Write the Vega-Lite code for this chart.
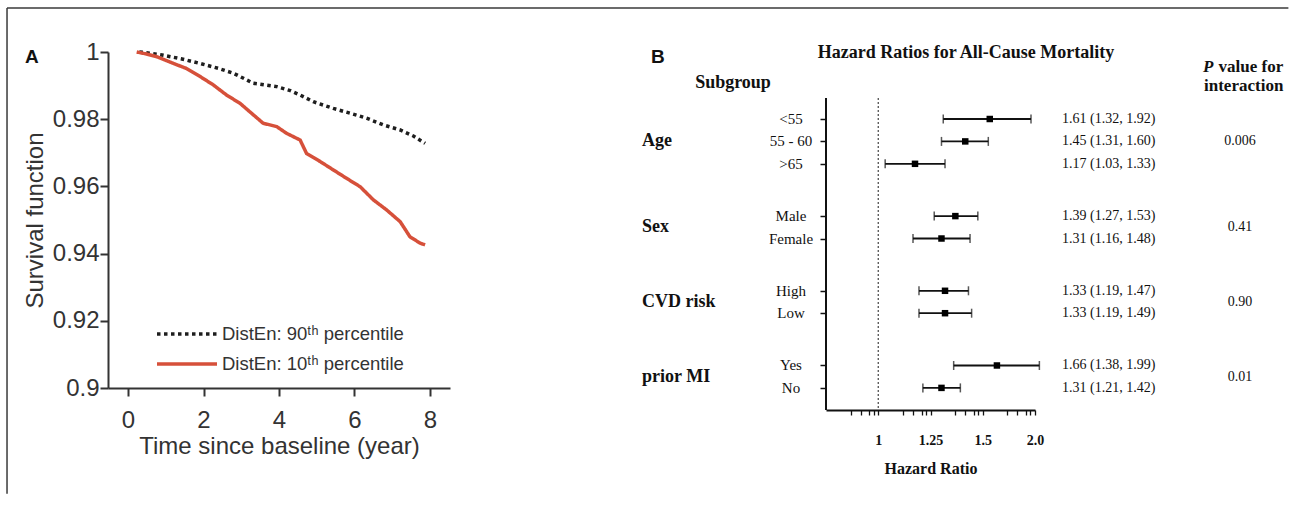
{
  "$schema": "https://vega.github.io/schema/vega-lite/v6.json",
  "padding": {"left": 6, "top": 7, "right": 0, "bottom": 0},
  "autosize": {"type": "pad"},
  "background": "white",
  "bounds": "flush",
  "spacing": 376,
  "config": {"view": {"stroke": null}, "axis": {"grid": false}},
  "datasets": {
    "km": [
      {"series": "DistEn: 90ᵗʰ percentile", "t": 0.3, "S": 1.0},
      {"series": "DistEn: 90ᵗʰ percentile", "t": 0.41, "S": 0.9999},
      {"series": "DistEn: 90ᵗʰ percentile", "t": 0.9, "S": 0.9991},
      {"series": "DistEn: 90ᵗʰ percentile", "t": 1.4, "S": 0.998},
      {"series": "DistEn: 90ᵗʰ percentile", "t": 1.91, "S": 0.9966},
      {"series": "DistEn: 90ᵗʰ percentile", "t": 2.4, "S": 0.9951},
      {"series": "DistEn: 90ᵗʰ percentile", "t": 2.79, "S": 0.9937},
      {"series": "DistEn: 90ᵗʰ percentile", "t": 3.32, "S": 0.9907},
      {"series": "DistEn: 90ᵗʰ percentile", "t": 3.94, "S": 0.9897},
      {"series": "DistEn: 90ᵗʰ percentile", "t": 4.3, "S": 0.9885},
      {"series": "DistEn: 90ᵗʰ percentile", "t": 4.56, "S": 0.9872},
      {"series": "DistEn: 90ᵗʰ percentile", "t": 4.91, "S": 0.9852},
      {"series": "DistEn: 90ᵗʰ percentile", "t": 5.44, "S": 0.9832},
      {"series": "DistEn: 90ᵗʰ percentile", "t": 5.88, "S": 0.9818},
      {"series": "DistEn: 90ᵗʰ percentile", "t": 6.32, "S": 0.9803},
      {"series": "DistEn: 90ᵗʰ percentile", "t": 6.76, "S": 0.9783},
      {"series": "DistEn: 90ᵗʰ percentile", "t": 7.21, "S": 0.9768},
      {"series": "DistEn: 90ᵗʰ percentile", "t": 7.56, "S": 0.975},
      {"series": "DistEn: 90ᵗʰ percentile", "t": 7.87, "S": 0.9728},
      {"series": "DistEn: 10ᵗʰ percentile", "t": 0.23, "S": 1.0},
      {"series": "DistEn: 10ᵗʰ percentile", "t": 0.49, "S": 0.9994},
      {"series": "DistEn: 10ᵗʰ percentile", "t": 0.76, "S": 0.9986},
      {"series": "DistEn: 10ᵗʰ percentile", "t": 1.2, "S": 0.9966},
      {"series": "DistEn: 10ᵗʰ percentile", "t": 1.55, "S": 0.9951},
      {"series": "DistEn: 10ᵗʰ percentile", "t": 1.91, "S": 0.9927},
      {"series": "DistEn: 10ᵗʰ percentile", "t": 2.26, "S": 0.9902},
      {"series": "DistEn: 10ᵗʰ percentile", "t": 2.61, "S": 0.9872},
      {"series": "DistEn: 10ᵗʰ percentile", "t": 2.97, "S": 0.9847},
      {"series": "DistEn: 10ᵗʰ percentile", "t": 3.32, "S": 0.9813},
      {"series": "DistEn: 10ᵗʰ percentile", "t": 3.58, "S": 0.9788},
      {"series": "DistEn: 10ᵗʰ percentile", "t": 3.94, "S": 0.9778},
      {"series": "DistEn: 10ᵗʰ percentile", "t": 4.2, "S": 0.9758},
      {"series": "DistEn: 10ᵗʰ percentile", "t": 4.56, "S": 0.9738},
      {"series": "DistEn: 10ᵗʰ percentile", "t": 4.73, "S": 0.9698},
      {"series": "DistEn: 10ᵗʰ percentile", "t": 5.09, "S": 0.9674},
      {"series": "DistEn: 10ᵗʰ percentile", "t": 5.44, "S": 0.9649},
      {"series": "DistEn: 10ᵗʰ percentile", "t": 5.79, "S": 0.9624},
      {"series": "DistEn: 10ᵗʰ percentile", "t": 6.15, "S": 0.9599},
      {"series": "DistEn: 10ᵗʰ percentile", "t": 6.5, "S": 0.956},
      {"series": "DistEn: 10ᵗʰ percentile", "t": 6.85, "S": 0.953},
      {"series": "DistEn: 10ᵗʰ percentile", "t": 7.21, "S": 0.9495},
      {"series": "DistEn: 10ᵗʰ percentile", "t": 7.47, "S": 0.945},
      {"series": "DistEn: 10ᵗʰ percentile", "t": 7.74, "S": 0.9431},
      {"series": "DistEn: 10ᵗʰ percentile", "t": 7.87, "S": 0.9426}
    ],
    "hr": [
      {"group": "Age", "sub": "<55", "row": 0, "hr": 1.61, "lo": 1.32, "hi": 1.92, "label": "1.61 (1.32, 1.92)", "p": "0.006"},
      {"group": "Age", "sub": "55 - 60", "row": 3, "hr": 1.45, "lo": 1.31, "hi": 1.6, "label": "1.45 (1.31, 1.60)", "p": "0.006"},
      {"group": "Age", "sub": ">65", "row": 6, "hr": 1.17, "lo": 1.03, "hi": 1.33, "label": "1.17 (1.03, 1.33)", "p": "0.006"},
      {"group": "Sex", "sub": "Male", "row": 13, "hr": 1.39, "lo": 1.27, "hi": 1.53, "label": "1.39 (1.27, 1.53)", "p": "0.41"},
      {"group": "Sex", "sub": "Female", "row": 16, "hr": 1.31, "lo": 1.16, "hi": 1.48, "label": "1.31 (1.16, 1.48)", "p": "0.41"},
      {"group": "CVD risk", "sub": "High", "row": 23, "hr": 1.33, "lo": 1.19, "hi": 1.47, "label": "1.33 (1.19, 1.47)", "p": "0.90"},
      {"group": "CVD risk", "sub": "Low", "row": 26, "hr": 1.33, "lo": 1.19, "hi": 1.49, "label": "1.33 (1.19, 1.49)", "p": "0.90"},
      {"group": "prior MI", "sub": "Yes", "row": 33, "hr": 1.66, "lo": 1.38, "hi": 1.99, "label": "1.66 (1.38, 1.99)", "p": "0.01"},
      {"group": "prior MI", "sub": "No", "row": 36, "hr": 1.31, "lo": 1.21, "hi": 1.42, "label": "1.31 (1.21, 1.42)", "p": "0.01"}
    ]
  },
  "hconcat": [
    {
      "width": 342,
      "height": 336,
      "layer": [
        {
          "data": {"values": [{}]},
          "mark": {"type": "rule", "strokeWidth": 1.5, "color": "#3a3a3a"},
          "encoding": {"x": {"datum": -3.205}, "y": {"datum": 1.0131}, "y2": {"datum": 0.8685}}
        },
        {
          "data": {"values": [{}]},
          "mark": {"type": "rule", "strokeWidth": 1.5, "color": "#3a3a3a"},
          "encoding": {"x": {"datum": -3.205}, "x2": {"datum": 30.74}, "y": {"datum": 1.0131}}
        },
        {
          "data": {"name": "km"},
          "mark": {"type": "line", "strokeWidth": 3.5},
          "encoding": {
            "x": {
              "field": "t", "type": "quantitative",
              "scale": {"domain": [-0.53, 8.53], "nice": false, "zero": false},
              "axis": {
                "values": [0, 2, 4, 6, 8], "title": "Time since baseline (year)",
                "labelFont": "Liberation Sans", "labelFontSize": 24, "labelColor": "#333",
                "tickSize": 8, "tickWidth": 2, "tickColor": "#333", "domainWidth": 2, "domainColor": "#333",
                "labelPadding": 12, "labelFlush": false,
                "titleFont": "Liberation Sans", "titleFontSize": 24, "titleFontWeight": "normal", "titleColor": "#333", "titlePadding": 2
              }
            },
            "y": {
              "field": "S", "type": "quantitative",
              "scale": {"domain": [0.9, 1], "nice": false, "zero": false},
              "axis": {
                "values": [0.9, 0.92, 0.94, 0.96, 0.98, 1], "format": ".2~f", "title": "Survival function",
                "labelFont": "Liberation Sans", "labelFontSize": 24, "labelColor": "#333",
                "tickSize": 8, "tickWidth": 2, "tickColor": "#333", "domainWidth": 2, "domainColor": "#333",
                "labelPadding": 1, "labelFlush": false,
                "titleFont": "Liberation Sans", "titleFontSize": 24, "titleFontWeight": "normal", "titleColor": "#333", "titlePadding": 5
              }
            },
            "color": {
              "field": "series", "type": "nominal",
              "scale": {"domain": ["DistEn: 90ᵗʰ percentile", "DistEn: 10ᵗʰ percentile"], "range": ["#1e1e1e", "#d6503a"]},
              "legend": {"orient": "none", "legendX": 39.5, "legendY": 272.5, "title": null, "symbolType": "M0,0H8", "symbolSize": 225, "symbolStrokeWidth": 3.5, "labelFont": "Liberation Sans", "labelFontSize": 18.5, "labelColor": "#333", "labelOffset": 55.5, "rowPadding": 11, "padding": 0, "labelLimit": 400}
            },
            "strokeDash": {
              "field": "series", "type": "nominal",
              "scale": {"domain": ["DistEn: 90ᵗʰ percentile", "DistEn: 10ᵗʰ percentile"], "range": [[3.5, 3.5], [1, 0]]},
              "legend": {"orient": "none", "legendX": 39.5, "legendY": 272.5, "title": null, "symbolType": "M0,0H8", "symbolSize": 225, "symbolStrokeWidth": 3.5, "labelFont": "Liberation Sans", "labelFontSize": 18.5, "labelColor": "#333", "labelOffset": 55.5, "rowPadding": 11, "padding": 0, "labelLimit": 400}
            }
          }
        },
        {
          "data": {"values": [{}]},
          "mark": {"type": "text", "text": "A", "font": "Liberation Sans", "fontWeight": "bold", "fontSize": 19, "align": "left", "baseline": "middle", "color": "#111"},
          "encoding": {"x": {"datum": -2.73}, "y": {"datum": 0.99851}}
        }
      ]
    },
    {
      "width": 209,
      "height": 358,
      "data": {"name": "hr"},
      "layer": [
        {
          "mark": {"type": "rule", "strokeWidth": 1.8, "color": "#111"},
          "encoding": {
            "x": {
              "field": "lo", "type": "quantitative",
              "scale": {"type": "log", "domain": [0.8, 1.953125], "nice": false},
              "axis": {
                "values": [0.8885, 0.927, 0.9627, 0.9802, 1, 1.1106, 1.1587, 1.2034, 1.2252, 1.25, 1.3883, 1.4484, 1.5043, 1.5315, 1.5625, 1.7353, 1.8105, 1.8803, 1.9144, 1.953125],
                "labelExpr": "datum.value == 1 ? '1' : datum.value == 1.25 ? '1.25' : datum.value == 1.5625 ? '1.5' : datum.value == 1.953125 ? '2.0' : ''",
                "title": "Hazard Ratio",
                "labelFont": "Liberation Serif", "labelFontSize": 14, "labelFontWeight": "bold", "labelColor": "#111",
                "labelPadding": 18, "labelFlush": false, "labelOverlap": false,
                "tickSize": 5, "tickWidth": 1.3, "tickColor": "#111", "domainWidth": 2, "domainColor": "#111",
                "titleFont": "Liberation Serif", "titleFontSize": 16, "titleFontWeight": "bold", "titleColor": "#111", "titlePadding": 13
              }
            },
            "x2": {"field": "hi"},
            "y": {
              "field": "row", "type": "quantitative",
              "scale": {"domain": [-8.97, 38.96], "reverse": true, "nice": false, "zero": false},
              "axis": {"values": [0, 3, 6, 13, 16, 23, 26, 33, 36], "labels": false, "domain": false, "tickSize": 6, "tickWidth": 1.5, "tickColor": "#111", "title": null}
            }
          }
        },
        {
          "data": {"values": [{}]},
          "mark": {"type": "rule", "strokeWidth": 2, "color": "#111"},
          "encoding": {"x": {"datum": 0.8}, "y": {"datum": -2.81}, "y2": {"datum": 38.96}}
        },
        {
          "data": {"values": [{}]},
          "mark": {"type": "rule", "strokeWidth": 1.2, "color": "#444", "strokeDash": [2, 2]},
          "encoding": {"x": {"datum": 1}, "y": {"datum": -2.81}, "y2": {"datum": 38.96}}
        },
        {
          "mark": {"type": "tick", "orient": "vertical", "size": 9, "thickness": 1.5, "color": "#111"},
          "encoding": {"x": {"field": "lo", "type": "quantitative"}, "y": {"field": "row", "type": "quantitative"}}
        },
        {
          "mark": {"type": "tick", "orient": "vertical", "size": 9, "thickness": 1.5, "color": "#111"},
          "encoding": {"x": {"field": "hi", "type": "quantitative"}, "y": {"field": "row", "type": "quantitative"}}
        },
        {
          "mark": {"type": "square", "size": 42, "filled": true, "opacity": 1, "color": "#000"},
          "encoding": {"x": {"field": "hr", "type": "quantitative"}, "y": {"field": "row", "type": "quantitative"}}
        },
        {
          "mark": {"type": "text", "font": "Liberation Serif", "fontSize": 15, "align": "center", "baseline": "middle", "color": "#111"},
          "encoding": {"x": {"datum": 0.6889}, "y": {"field": "row", "type": "quantitative"}, "text": {"field": "sub"}}
        },
        {
          "mark": {"type": "text", "font": "Liberation Serif", "fontSize": 14, "align": "left", "baseline": "middle", "color": "#111"},
          "encoding": {"x": {"datum": 2.1918}, "y": {"field": "row", "type": "quantitative"}, "text": {"field": "label"}}
        },
        {
          "transform": [{"aggregate": [{"op": "mean", "field": "row", "as": "row"}], "groupby": ["group", "p"]}],
          "mark": {"type": "text", "font": "Liberation Serif", "fontSize": 18, "fontWeight": "bold", "align": "left", "baseline": "middle", "color": "#111"},
          "encoding": {"x": {"datum": 0.3646}, "y": {"field": "row", "type": "quantitative"}, "text": {"field": "group"}}
        },
        {
          "transform": [{"aggregate": [{"op": "mean", "field": "row", "as": "row"}], "groupby": ["group", "p"]}],
          "mark": {"type": "text", "font": "Liberation Serif", "fontSize": 14, "align": "center", "baseline": "middle", "color": "#111"},
          "encoding": {"x": {"datum": 4.688}, "y": {"field": "row", "type": "quantitative"}, "text": {"field": "p"}}
        },
        {
          "data": {"values": [{}]},
          "mark": {"type": "text", "text": "Hazard Ratios for All-Cause Mortality", "font": "Liberation Serif", "fontSize": 18, "fontWeight": "bold", "align": "center", "baseline": "middle", "color": "#111"},
          "encoding": {"x": {"datum": 1.4547}, "y": {"datum": -8.836}}
        },
        {
          "data": {"values": [{}]},
          "mark": {"type": "text", "text": "Subgroup", "font": "Liberation Serif", "fontSize": 18, "fontWeight": "bold", "align": "center", "baseline": "middle", "color": "#111"},
          "encoding": {"x": {"datum": 0.5378}, "y": {"datum": -4.82}}
        },
        {
          "data": {"values": [{}]},
          "mark": {"type": "text", "text": "P", "font": "Liberation Serif", "fontSize": 17, "fontWeight": "bold", "fontStyle": "italic", "align": "left", "baseline": "middle", "color": "#111"},
          "encoding": {"x": {"datum": 4.003}, "y": {"datum": -6.962}}
        },
        {
          "data": {"values": [{}]},
          "mark": {"type": "text", "text": "value for", "font": "Liberation Serif", "fontSize": 17, "fontWeight": "bold", "align": "left", "baseline": "middle", "color": "#111"},
          "encoding": {"x": {"datum": 4.278}, "y": {"datum": -6.962}}
        },
        {
          "data": {"values": [{}]},
          "mark": {"type": "text", "text": "interaction", "font": "Liberation Serif", "fontSize": 17, "fontWeight": "bold", "align": "left", "baseline": "middle", "color": "#111"},
          "encoding": {"x": {"datum": 4.02}, "y": {"datum": -4.418}}
        },
        {
          "data": {"values": [{}]},
          "mark": {"type": "text", "text": "B", "font": "Liberation Sans", "fontSize": 19, "fontWeight": "bold", "align": "left", "baseline": "middle", "color": "#111"},
          "encoding": {"x": {"datum": 0.3789}, "y": {"datum": -8.367}}
        }
      ]
    }
  ]
}
